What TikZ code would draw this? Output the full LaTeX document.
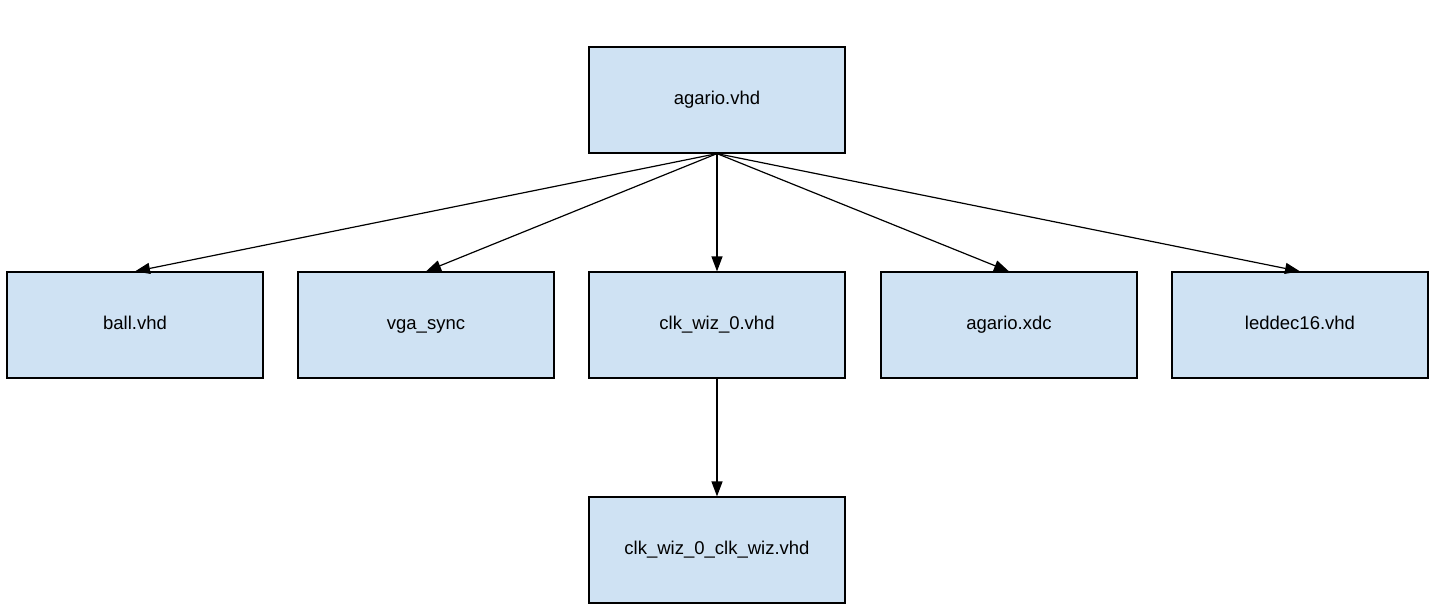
\documentclass[tikz,border=0pt]{standalone}
\usepackage{fontspec}
\setmainfont{Liberation Sans}
\usetikzlibrary{arrows.meta}
\begin{document}
\begin{tikzpicture}[
	x=1pt, y=-1pt,
	file/.style={ draw=black, line width=1.2pt, fill={rgb,255:red,207;green,226;blue,243}, minimum width=256pt, minimum height=106pt, inner sep=0pt, text height=13pt, text depth=4pt, font=\fontsize{18.5pt}{22pt}\selectfont },
	dep/.style={ line width=1.2pt, -{Triangle[length=15pt,width=11pt]} }
]
\useasboundingbox (0,0) rectangle (1435,613);

\node[file] at (717,100) (agario) {agario.vhd};
\node[file] at (135,325) (ball) {ball.vhd};
\node[file] at (426,325) (vga) {vga\_sync};
\node[file] at (717,325) (clk) {clk\_wiz\_0.vhd};
\node[file] at (1009,325) (xdc) {agario.xdc};
\node[file] at (1300,325) (led) {leddec16.vhd};
\node[file] at (717,550) (clkwiz) {clk\_wiz\_0\_clk\_wiz.vhd};
\foreach \p in {ball,vga,clk,xdc,led} \draw[dep] (agario.south) to (\p.north);
\draw[dep] (clk.south) to (clkwiz.north);

\end{tikzpicture}
\end{document}
